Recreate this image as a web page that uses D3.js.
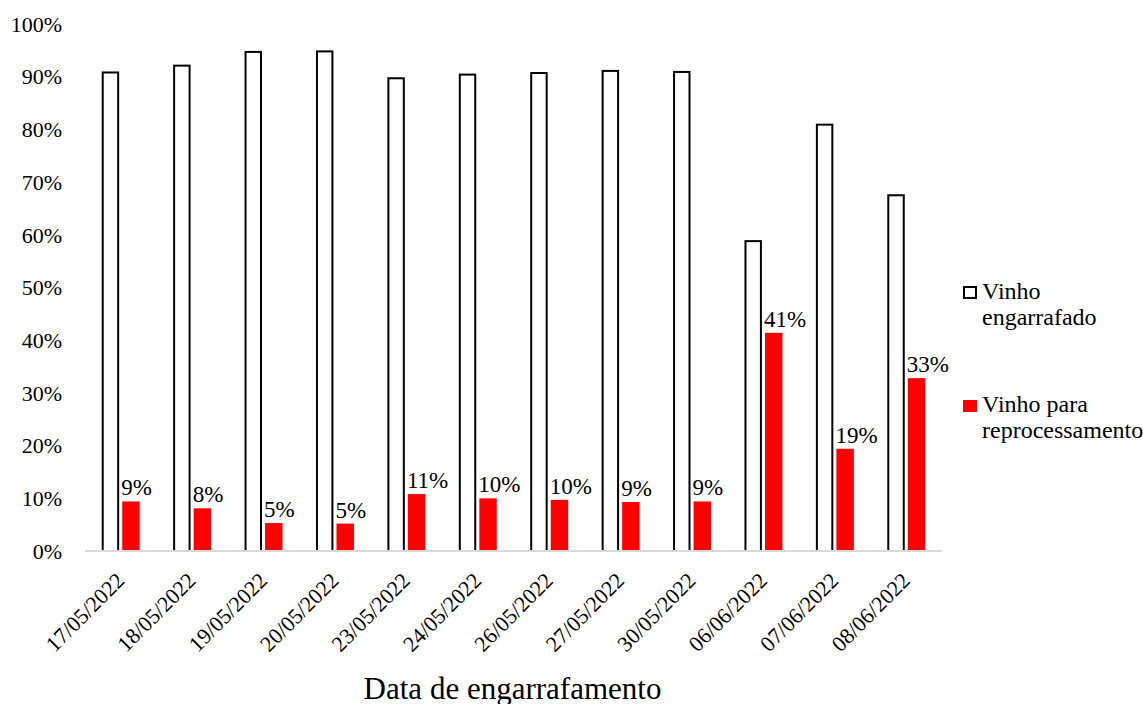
<!DOCTYPE html>
<html>
<head>
<meta charset="utf-8">
<script src="https://cdn.jsdelivr.net/npm/d3@7"></script>
<style>
  html, body { margin: 0; padding: 0; background: #ffffff; }
  svg { display: block; }
</style>
</head>
<body>
<svg id="chart" width="1143" height="704" font-family="'Liberation Serif', 'Times New Roman', Tinos, serif"></svg>
<script>
// Bottling dates
const dates = ["17/05/2022", "18/05/2022", "19/05/2022", "20/05/2022", "23/05/2022",
               "24/05/2022", "26/05/2022", "27/05/2022", "30/05/2022", "06/06/2022",
               "07/06/2022", "08/06/2022"];
// Share of wine bottled
const bottled = [0.908, 0.921, 0.947, 0.948, 0.897, 0.904, 0.907, 0.911, 0.909, 0.588, 0.809, 0.675];
// Share of wine sent back for reprocessing
const reprocessed = [0.094, 0.081, 0.053, 0.052, 0.108, 0.100, 0.097, 0.093, 0.094, 0.414, 0.194, 0.328];
const seriesNames = ["Vinho engarrafado", "Vinho para reprocessamento"];
const yTicks = [0, 0.1, 0.2, 0.3, 0.4, 0.5, 0.6, 0.7, 0.8, 0.9, 1.0];
const xTitle = "Data de engarrafamento";

const FONT = "'Liberation Serif', 'Times New Roman', Tinos, serif";
const svg = d3.select("#chart");
const root = svg.append("g").attr("font-family", FONT);
const plot = { left: 85, right: 942, top: 24, bottom: 551 };

const x0 = d3.scaleBand().domain(dates).range([plot.left, plot.right]).padding(0);
const groupW = 38;
const x1 = d3.scaleBand().domain(seriesNames).range([0, groupW]).paddingInner(0.15);
const y = d3.scaleLinear().domain([0, 1]).range([plot.bottom, plot.top]);
const pct = d3.format(".0%");

const groupX = d => x0(d) + (x0.bandwidth() - groupW) / 2;

// Y tick labels
root.append("g")
  .selectAll("text")
  .data(yTicks)
  .join("text")
  .attr("x", 62)
  .attr("y", d => y(d))
  .attr("dy", "0.35em")
  .attr("text-anchor", "end")
  .attr("font-family", FONT)
  .attr("font-size", 22)
  .text(d => pct(d));

// Bottled wine: outlined bars
root.append("g")
  .selectAll("rect")
  .data(dates.map((d, i) => ({ date: d, v: bottled[i] })))
  .join("rect")
  .attr("x", d => groupX(d.date) + x1(seriesNames[0]) + 1)
  .attr("y", d => y(d.v))
  .attr("width", x1.bandwidth() - 2)
  .attr("height", d => y(0) - y(d.v))
  .attr("fill", "#ffffff")
  .attr("stroke", "#000000")
  .attr("stroke-width", 2);

// Reprocessing: red bars
const red = dates.map((d, i) => ({ date: d, v: reprocessed[i] }));
root.append("g")
  .selectAll("rect")
  .data(red)
  .join("rect")
  .attr("x", d => groupX(d.date) + x1(seriesNames[1]))
  .attr("y", d => y(d.v))
  .attr("width", x1.bandwidth())
  .attr("height", d => y(0) - y(d.v))
  .attr("fill", "#ff0000");

// Value labels above the red bars
root.append("g")
  .selectAll("text")
  .data(red)
  .join("text")
  .attr("x", d => groupX(d.date) + x1(seriesNames[1]) - 1)
  .attr("y", d => y(d.v) - 6)
  .attr("font-family", FONT)
  .attr("font-size", 23)
  .text(d => pct(d.v));

// Category axis line
root.append("line")
  .attr("x1", plot.left).attr("x2", plot.right)
  .attr("y1", y(0)).attr("y2", y(0))
  .attr("stroke", "#d9d9d9")
  .attr("stroke-width", 2);

// Rotated date labels
root.append("g")
  .selectAll("text")
  .data(dates)
  .join("text")
  .attr("transform", d => `translate(${x0(d) + x0.bandwidth() / 2 + 5},${y(0) + 31}) rotate(-45)`)
  .attr("text-anchor", "end")
  .attr("font-family", FONT)
  .attr("font-size", 22)
  .text(d => d);

// Axis title
root.append("text")
  .attr("x", (plot.left + plot.right) / 2 - 1)
  .attr("y", 699)
  .attr("text-anchor", "middle")
  .attr("font-family", FONT)
  .attr("font-size", 31)
  .text(xTitle);

// Legend
const legend = root.append("g");
const legendItems = [
  { lines: ["Vinho", "engarrafado"], fill: "#ffffff", stroke: "#000000", y: 299 },
  { lines: ["Vinho para", "reprocessamento"], fill: "#ff0000", stroke: "none", y: 412 }
];
legendItems.forEach(item => {
  const outlined = item.stroke !== "none";
  legend.append("rect")
    .attr("x", outlined ? 964 : 963)
    .attr("y", item.y - 12)
    .attr("width", outlined ? 12 : 14)
    .attr("height", outlined ? 11 : 12)
    .attr("fill", item.fill)
    .attr("stroke", item.stroke)
    .attr("stroke-width", 2);
  const t = legend.append("text")
    .attr("x", 982)
    .attr("y", item.y)
    .attr("font-family", FONT)
    .attr("font-size", 24);
  item.lines.forEach((line, k) => {
    t.append("tspan").attr("x", 982).attr("dy", k === 0 ? 0 : 26).text(line);
  });
});
</script>
</body>
</html>
